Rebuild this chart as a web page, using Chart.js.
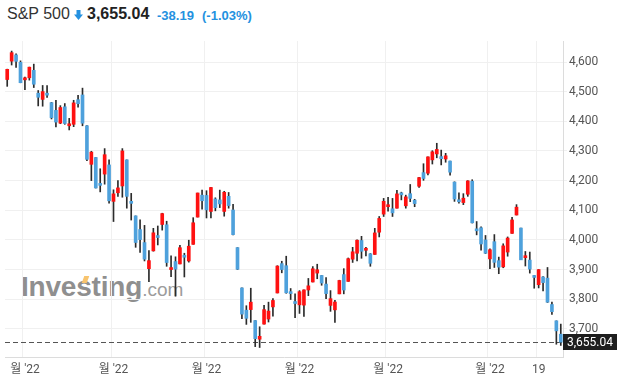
<!DOCTYPE html>
<html>
<head>
<meta charset="utf-8">
<script src="https://cdn.jsdelivr.net/npm/chart.js@4"></script>
<style>
    html, body { margin: 0; padding: 0; background: #fff; }
    #wrap { position: relative; width: 625px; height: 380px; overflow: hidden; }
    #chart { position: absolute; left: 0; top: 0; z-index: 1; }
    .t { position: absolute; white-space: nowrap; font-family: 'Liberation Sans', Arial, sans-serif; }
    #wm { position: absolute; left: 21px; top: 273px; z-index: 0; font-family: 'Liberation Sans', Arial, sans-serif; line-height: 28px; white-space: nowrap; }
    #wm .b { font-size: 28px; font-weight: bold; color: #8f8f8f; letter-spacing: -0.2px; }
    #wm .c { font-size: 19px; color: #9c9c9c; }
    #wm .flag { position: absolute; left: 62px; top: 3px; width: 5px; height: 7px; background: #f8c46e; transform: skewX(-20deg); }
</style>
</head>
<body>
<div id="wrap">
    <div id="wm"><span class="b">Investing</span><span class="c">.com</span><span class="flag"></span></div>
    <canvas id="chart" width="625" height="380"></canvas>
    <span class="t" style="left:7px; top:6px; font-size:16px; line-height:16px; color:#333;">S&amp;P 500</span>
    <svg class="t" style="left:74px; top:10px;" width="9" height="10" viewBox="0 0 9 10">
        <rect x="2.5" y="0" width="4" height="5" fill="#2491e0"/>
        <polygon points="0,4.5 9,4.5 4.5,10" fill="#2491e0"/>
    </svg>
    <span class="t" style="left:87px; top:6px; font-size:16px; line-height:16px; font-weight:bold; color:#222;">3,655.04</span>
    <span class="t" style="left:157px; top:9px; font-size:13px; line-height:13px; font-weight:bold; color:#2491e0;">-38.19</span>
    <span class="t" style="left:202px; top:9px; font-size:13px; line-height:13px; font-weight:bold; color:#2491e0;">(-1.03%)</span>
</div>
<script>
// S&P 500 daily candles, 2022-03-28 .. 2022-09-26
const dates = [
    '03-28', '03-29', '03-30', '03-31',
    '04-01', '04-04', '04-05', '04-06', '04-07', '04-08', '04-11', '04-12', '04-13', '04-14',
    '04-18', '04-19', '04-20', '04-21', '04-22', '04-25', '04-26', '04-27', '04-28', '04-29',
    '05-02', '05-03', '05-04', '05-05', '05-06', '05-09', '05-10', '05-11', '05-12', '05-13',
    '05-16', '05-17', '05-18', '05-19', '05-20', '05-23', '05-24', '05-25', '05-26', '05-27', '05-31',
    '06-01', '06-02', '06-03', '06-06', '06-07', '06-08', '06-09', '06-10', '06-13', '06-14',
    '06-15', '06-16', '06-17', '06-21', '06-22', '06-23', '06-24', '06-27', '06-28', '06-29', '06-30',
    '07-01', '07-05', '07-06', '07-07', '07-08', '07-11', '07-12', '07-13', '07-14', '07-15',
    '07-18', '07-19', '07-20', '07-21', '07-22', '07-25', '07-26', '07-27', '07-28', '07-29',
    '08-01', '08-02', '08-03', '08-04', '08-05', '08-08', '08-09', '08-10', '08-11', '08-12',
    '08-15', '08-16', '08-17', '08-18', '08-19', '08-22', '08-23', '08-24', '08-25', '08-26',
    '08-29', '08-30', '08-31',
    '09-01', '09-02', '09-06', '09-07', '09-08', '09-09', '09-12', '09-13', '09-14', '09-15',
    '09-16', '09-19', '09-20', '09-21', '09-22', '09-23', '09-26'
];

const opens = [
    4541, 4603, 4624, 4599,
    4540, 4547, 4572, 4495, 4474, 4494, 4463, 4437, 4394, 4449, 4385, 4390, 4473, 4489, 4385, 4255, 4278, 4187, 4222, 4253,
    4130, 4159, 4182, 4270, 4128, 4081, 4035, 3991, 3903, 3963, 4013, 4052, 4051, 3900, 3927, 3919, 3943, 3929, 3985, 4077, 4151,
    4150, 4096, 4138, 4135, 4096, 4147, 4101, 3974, 3838, 3763, 3765, 3728, 3665, 3716, 3733, 3774, 3821, 3920, 3913, 3825, 3790,
    3781, 3780, 3831, 3858, 3888, 3880, 3851, 3779, 3764, 3818, 3883, 3860, 3935, 3955, 3998, 3965, 3953, 3951, 4026, 4087,
    4112, 4105, 4107, 4154, 4115, 4156, 4134, 4181, 4227, 4225, 4270, 4290, 4281, 4273, 4266, 4195, 4133, 4126, 4154, 4198, 4034, 4041, 4000,
    3936, 3994, 3930, 3909, 3959, 4022, 4084, 4040, 3940, 3932, 3880, 3849, 3875, 3871, 3782, 3727, 3682
];
const highs = [
    4576, 4637, 4628, 4604,
    4549, 4583, 4593, 4504, 4521, 4521, 4464, 4471, 4453, 4460, 4410, 4471, 4488, 4512, 4386, 4299, 4278, 4240, 4308, 4270,
    4169, 4200, 4308, 4270, 4157, 4081, 4068, 4049, 3964, 4039, 4047, 4090, 4063, 3946, 3943, 3982, 3955, 3999, 4075, 4158, 4168,
    4166, 4177, 4142, 4168, 4164, 4160, 4120, 3974, 3838, 3778, 3837, 3728, 3707, 3779, 3790, 3802, 3913, 3928, 3945, 3836, 3818,
    3829, 3832, 3870, 3910, 3918, 3880, 3873, 3829, 3796, 3864, 3903, 3939, 3975, 4000, 4012, 3975, 3954, 4039, 4079, 4140,
    4144, 4140, 4167, 4161, 4151, 4187, 4137, 4211, 4257, 4280, 4301, 4326, 4303, 4292, 4266, 4196, 4159, 4156, 4200, 4203, 4062, 4044, 4015,
    3970, 4018, 3942, 3987, 4010, 4076, 4119, 4040, 3961, 3959, 3880, 3900, 3876, 3907, 3790, 3727, 3716
];
const lows = [
    4518, 4590, 4582, 4530,
    4507, 4539, 4514, 4452, 4451, 4481, 4408, 4381, 4392, 4390, 4371, 4382, 4448, 4385, 4267, 4200, 4175, 4162, 4188, 4124,
    4062, 4147, 4144, 4107, 4067, 3975, 3958, 3929, 3859, 3962, 3983, 4033, 3911, 3876, 3810, 3919, 3875, 3925, 3985, 4077, 4104,
    4074, 4074, 4098, 4109, 4080, 4107, 4017, 3900, 3734, 3715, 3722, 3640, 3637, 3716, 3723, 3743, 3821, 3889, 3820, 3799, 3738,
    3752, 3742, 3812, 3858, 3869, 3847, 3802, 3759, 3722, 3818, 3818, 3860, 3924, 3929, 3938, 3946, 3911, 3951, 4010, 4079,
    4097, 4079, 4107, 4135, 4107, 4129, 4112, 4177, 4201, 4219, 4256, 4277, 4253, 4262, 4218, 4130, 4124, 4119, 4147, 4057, 4017, 3965, 3954,
    3903, 3907, 3886, 3906, 3945, 4022, 4084, 3933, 3912, 3888, 3837, 3838, 3828, 3789, 3749, 3648, 3644
];
const closes = [
    4575.52, 4631.60, 4602.45, 4530.41,
    4545.86, 4582.64, 4525.12, 4481.15, 4500.21, 4488.28, 4412.53, 4397.45, 4446.59, 4392.59, 4391.69, 4462.21, 4459.45, 4393.66, 4271.78, 4296.12, 4175.20, 4183.96, 4287.50, 4131.93,
    4155.38, 4175.48, 4300.17, 4146.87, 4123.34, 3991.24, 4001.05, 3935.18, 3930.08, 4023.89, 4008.01, 4088.85, 3923.68, 3900.79, 3901.36, 3973.75, 3941.48, 3978.73, 4057.84, 4158.24, 4132.15,
    4101.23, 4176.82, 4108.54, 4121.43, 4160.68, 4115.77, 4017.82, 3900.86, 3749.63, 3735.48, 3789.99, 3666.77, 3674.84, 3764.79, 3759.89, 3795.73, 3911.74, 3900.11, 3821.55, 3818.83, 3785.38,
    3825.33, 3831.39, 3845.08, 3902.62, 3899.38, 3854.43, 3818.80, 3801.78, 3790.38, 3863.16, 3830.85, 3936.69, 3959.90, 3998.95, 3961.63, 3966.84, 3921.05, 4023.61, 4072.43, 4130.29,
    4118.63, 4091.19, 4155.17, 4151.94, 4145.19, 4140.06, 4122.47, 4210.24, 4207.27, 4280.15, 4297.14, 4305.20, 4274.04, 4283.74, 4228.48, 4137.99, 4128.73, 4140.77, 4199.12, 4057.66, 4030.61, 3986.16, 3955.00,
    3966.85, 3924.26, 3908.19, 3979.87, 4006.18, 4067.36, 4110.41, 3932.69, 3946.01, 3901.35, 3873.33, 3899.89, 3855.93, 3789.93, 3757.99, 3693.23, 3655.04
];

// x axis labels, shown only on these days
const tickDates = ['04-01', '05-02', '06-01', '07-01', '08-01', '09-01', '09-19'];
const tickTexts = ["월 '22", "월 '22", "월 '22", "월 '22", "월 '22", "월 '22", '19'];

const upColor = '#ff1111';
const downColor = '#4ea1dc';
const wickColor = '#2b2b2b';
const lastClose = closes[closes.length - 1];

function tickTextAt(i) {
    const k = tickDates.indexOf(dates[i]);
    return k >= 0 ? tickTexts[k] : '';
}

const fmt = v => Number(v).toLocaleString('en-US', { minimumFractionDigits: 2, maximumFractionDigits: 2 });

const lastPrice = {
    id: 'lastPrice',
    beforeDatasetsDraw(chart) {
        const { ctx, chartArea } = chart;
        const y = Math.round(chart.scales.y.getPixelForValue(lastClose)) + 0.5;
        ctx.save();
        ctx.strokeStyle = '#555';
        ctx.lineWidth = 1;
        ctx.setLineDash([5, 3]);
        ctx.beginPath();
        ctx.moveTo(chartArea.left, y);
        ctx.lineTo(chartArea.right, y);
        ctx.stroke();
        ctx.restore();
    },
    afterDraw(chart) {
        const { ctx, chartArea } = chart;
        const y = chart.scales.y.getPixelForValue(lastClose);
        ctx.save();
        ctx.fillStyle = '#1e1e1e';
        ctx.fillRect(chartArea.right, Math.round(y) - 8, 54, 16);
        ctx.fillStyle = '#fff';
        ctx.font = '12px Roboto, sans-serif';
        ctx.textBaseline = 'middle';
        ctx.fillText(fmt(lastClose), chartArea.right + 4, Math.round(y) + 0.5);
        ctx.restore();
    }
};

new Chart(document.getElementById('chart'), {
    type: 'bar',
    data: {
        labels: dates,
        datasets: [
            {
                label: 'body',
                data: opens.map((o, i) => [o, closes[i]]),
                backgroundColor: closes.map((c, i) => c >= opens[i] ? upColor : downColor),
                barThickness: 3,
                minBarLength: 2,
                grouped: false,
                order: 0
            },
            {
                label: 'wick',
                data: lows.map((l, i) => [l, highs[i]]),
                backgroundColor: wickColor,
                barThickness: 1,
                grouped: false,
                order: 1
            }
        ]
    },
    options: {
        responsive: false,
        animation: false,
        layout: { padding: { left: 5, top: 41, right: 0, bottom: 0 } },
        plugins: {
            legend: { display: false },
            tooltip: { enabled: false }
        },
        scales: {
            x: {
                offset: true,
                grid: {
                    offset: true,
                    drawTicks: false,
                    color: c => (c.index !== undefined && tickTextAt(c.index)) ? '#f0f0f0' : 'rgba(0,0,0,0)'
                },
                border: { color: '#dcdcdc' },
                ticks: {
                    autoSkip: false,
                    maxRotation: 0,
                    minRotation: 0,
                    padding: 6,
                    color: '#555',
                    font: { size: 12, family: "Roboto, 'Noto Sans CJK KR', sans-serif" },
                    callback: (v, i) => tickTextAt(i)
                },
                afterFit: s => { s.height = 23; }
            },
            y: {
                position: 'right',
                min: 3605,
                max: 4671,
                grid: { color: '#f0f0f0', tickLength: 4 },
                border: { color: '#dcdcdc' },
                ticks: {
                    stepSize: 100,
                    includeBounds: false,
                    padding: 2,
                    color: '#555',
                    font: { size: 12, family: 'Roboto, sans-serif' },
                    callback: v => v % 100 === 0 ? v.toLocaleString('en-US') : ''
                },
                afterFit: s => { s.width = 62; }
            }
        }
    },
    plugins: [lastPrice]
});
</script>
</body>
</html>
